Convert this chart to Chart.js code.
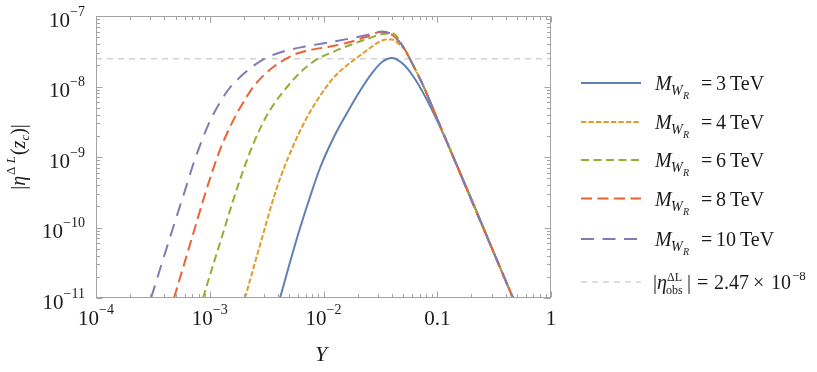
<!DOCTYPE html>
<html>
<head>
<meta charset="utf-8">
<script src="https://cdn.jsdelivr.net/npm/chart.js@4.4.1/dist/chart.umd.min.js"></script>
<style>
  html, body { margin: 0; padding: 0; background: #fff; }
  canvas { display: block; }
</style>
</head>
<body>
<canvas id="plot" width="817" height="372"></canvas>
<script>
// W_R masses (TeV), one curve each
const masses = [3, 4, 6, 8, 10];

// |eta^{Delta L}(z_c)| against Y
const x3 = [0.00415, 0.00508, 0.00622, 0.00761, 0.00932, 0.0121, 0.0161, 0.0209, 0.0267, 0.0327, 0.04, 0.049, 0.0612, 0.0813, 0.112, 0.463];
const y3 = [1e-11, 3.24e-11, 9.84e-11, 2.71e-10, 6.98e-10, 1.8e-9, 4.21e-9, 8.64e-9, 1.55e-8, 2.23e-8, 2.54e-8, 2.15e-8, 1.41e-8, 6.44e-9, 2.19e-9, 1e-11];

const x4 = [0.00204, 0.00245, 0.00294, 0.00353, 0.00423, 0.00508, 0.00622, 0.00761, 0.0097, 0.0124, 0.0158, 0.0201, 0.0256, 0.0314, 0.0354, 0.04, 0.047, 0.052, 0.06, 0.0734, 0.0899, 0.108, 0.463];
const y4 = [1e-11, 2.84e-11, 7.96e-11, 2.23e-10, 5.38e-10, 1.14e-9, 2.34e-9, 4.35e-9, 8.09e-9, 1.36e-8, 1.95e-8, 2.62e-8, 3.52e-8, 4.35e-8, 4.64e-8, 4.64e-8, 3.88e-8, 3.29e-8, 2.15e-8, 1.12e-8, 5.29e-9, 2.58e-9, 1e-11];

const x6 = [0.000873, 0.00107, 0.00131, 0.0016, 0.00192, 0.00226, 0.00266, 0.00312, 0.00367, 0.00441, 0.0054, 0.00674, 0.00859, 0.0121, 0.0171, 0.0241, 0.0334, 0.0408, 0.05, 0.06, 0.0734, 0.0899, 0.108, 0.463];
const y6 = [1e-11, 2.94e-11, 8.36e-11, 2.38e-10, 5.74e-10, 1.18e-9, 2.19e-9, 3.69e-9, 5.65e-9, 8.36e-9, 1.24e-8, 1.77e-8, 2.38e-8, 3.09e-8, 3.88e-8, 4.72e-8, 5.56e-8, 5.65e-8, 3.69e-8, 2.15e-8, 1.12e-8, 5.29e-9, 2.58e-9, 1e-11];

const x8 = [0.000485, 0.000594, 0.000727, 0.00089, 0.00105, 0.00123, 0.00145, 0.00174, 0.00208, 0.00245, 0.003, 0.00367, 0.00459, 0.00585, 0.00761, 0.0121, 0.0171, 0.0241, 0.032, 0.0384, 0.05, 0.06, 0.0734, 0.0899, 0.108, 0.463];
const y8 = [1e-11, 2.99e-11, 8.92e-11, 2.66e-10, 6.13e-10, 1.26e-9, 2.34e-9, 4.21e-9, 6.87e-9, 1.02e-8, 1.46e-8, 1.92e-8, 2.42e-8, 2.94e-8, 3.29e-8, 3.75e-8, 4.28e-8, 5.09e-8, 5.93e-8, 5.65e-8, 3.69e-8, 2.15e-8, 1.12e-8, 5.29e-9, 2.58e-9, 1e-11];

const x10 = [0.000305, 0.00038, 0.000475, 0.000594, 0.000727, 0.000855, 0.001005, 0.00118, 0.00145, 0.00185, 0.00235, 0.00312, 0.00459, 0.00688, 0.0121, 0.0209, 0.0284, 0.0327, 0.0384, 0.05, 0.06, 0.0734, 0.0899, 0.108, 0.463];
const y10 = [1e-11, 3.14e-11, 9.84e-11, 3.04e-10, 8.5e-10, 1.74e-9, 3.24e-9, 5.29e-9, 8.92e-9, 1.36e-8, 1.89e-8, 2.54e-8, 3.19e-8, 3.69e-8, 4.32e-8, 5.12e-8, 5.74e-8, 6.03e-8, 5.65e-8, 3.69e-8, 2.15e-8, 1.12e-8, 5.29e-9, 2.58e-9, 1e-11];

// observed value
const obsX = [1e-4, 1];
const obsY = [2.47e-8, 2.47e-8];

// tick labels: [base, superscript]
const xTickVals = [1e-4, 1e-3, 1e-2, 0.1, 1];
const xTickText = [['10', '\u22124'], ['10', '\u22123'], ['10', '\u22122'], ['0.1', ''], ['1', '']];
const yTickVals = [1e-7, 1e-8, 1e-9, 1e-10, 1e-11];
const yTickText = [['10', '\u22127'], ['10', '\u22128'], ['10', '\u22129'], ['10', '\u221210'], ['10', '\u221211']];

const serif = '"Liberation Serif", "Times New Roman", serif';
const colors = ['#5e81b5', '#e19c24', '#8fb032', '#eb6235', '#8778b3'];
const dashes = [[], [5.3, 2.2], [8, 4.5], [11, 5.5], [13, 8.5]];
const xs = [x3, x4, x6, x8, x10];
const ys = [y3, y4, y6, y8, y10];

function pts(xa, ya) {
  return xa.map((v, i) => ({ x: v, y: ya[i] }));
}

const datasets = masses.map((m, i) => ({
  label: 'M_WR = ' + m + ' TeV',
  data: pts(xs[i], ys[i]),
  borderColor: colors[i],
  borderWidth: 2,
  borderDash: dashes[i],
  pointRadius: 0,
  showLine: true,
  fill: false,
  cubicInterpolationMode: 'monotone',
  order: 5 - i
}));
datasets.push({
  label: 'obs',
  data: pts(obsX, obsY),
  borderColor: '#bdbdbd',
  borderWidth: 1,
  borderDash: [6, 5],
  pointRadius: 0,
  showLine: true,
  order: 10
});

function runs(ctx, list, x, y, dry) {
  let cx = x;
  for (const r of list) {
    ctx.font = (r.style || 'normal') + ' ' + r.size + 'px ' + serif;
    cx += r.dx || 0;
    if (!dry) ctx.fillText(r.t, cx, y + (r.dy || 0));
    cx += ctx.measureText(r.t).width;
  }
  return cx - x;
}

const decor = {
  id: 'decor',
  afterDraw(chart) {
    const ctx = chart.ctx;
    const a = chart.chartArea;
    const sx = chart.scales.x, sy = chart.scales.y;
    const L = Math.round(a.left) + 0.5, R = Math.round(a.right) - 0.5;
    const T = Math.round(a.top) + 0.5, B = Math.round(a.bottom) - 0.5;
    ctx.save();

    // frame + inward ticks
    ctx.strokeStyle = '#a3a3a3';
    ctx.lineWidth = 1;
    ctx.setLineDash([]);
    ctx.strokeRect(L, T, R - L, B - T);
    ctx.beginPath();
    for (let d = -4; d <= 0; d++) {
      for (let k = 1; k <= 9; k++) {
        const v = k * Math.pow(10, d);
        if (v > 1.0001) break;
        const p = Math.round(sx.getPixelForValue(v)) + 0.5;
        const len = k === 1 ? 6 : 3.5;
        ctx.moveTo(p, B); ctx.lineTo(p, B - len);
        ctx.moveTo(p, T); ctx.lineTo(p, T + len);
      }
    }
    for (let d = -11; d <= -7; d++) {
      for (let k = 1; k <= 9; k++) {
        const v = k * Math.pow(10, d);
        if (v > 1.0001e-7) break;
        const p = Math.round(sy.getPixelForValue(v)) + 0.5;
        const len = k === 1 ? 6 : 3.5;
        ctx.moveTo(L, p); ctx.lineTo(L + len, p);
        ctx.moveTo(R, p); ctx.lineTo(R - len, p);
      }
    }
    ctx.stroke();

    // tick labels
    ctx.fillStyle = '#1a1a1a';
    ctx.textBaseline = 'alphabetic';
    xTickVals.forEach((v, i) => {
      const list = [{ t: xTickText[i][0], size: 21 }];
      if (xTickText[i][1]) list.push({ t: xTickText[i][1], size: 14, dy: -11 });
      const w = runs(ctx, list, 0, 0, true);
      runs(ctx, list, sx.getPixelForValue(v) - w / 2, 325);
    });
    yTickVals.forEach((v, i) => {
      const list = [{ t: yTickText[i][0], size: 21 }, { t: yTickText[i][1], size: 14, dy: -11 }];
      const w = runs(ctx, list, 0, 0, true);
      runs(ctx, list, 85 - w, sy.getPixelForValue(v) + 10.5);
    });

    // axis titles
    runs(ctx, [{ t: 'Y', size: 22, style: 'italic' }], 315, 361);
    const ylab = [
      { t: '|', size: 20 },
      { t: '\u03b7', size: 20, style: 'italic' },
      { t: '\u0394', size: 13, dy: -10, dx: 1 },
      { t: ' L', size: 13, style: 'italic', dy: -10 },
      { t: '(', size: 20, dx: 1 },
      { t: 'z', size: 20, style: 'italic' },
      { t: 'c', size: 13, style: 'italic', dy: 4 },
      { t: ')|', size: 20 }
    ];
    const yw = runs(ctx, ylab, 0, 0, true);
    ctx.save();
    ctx.translate(25, 157);
    ctx.rotate(-Math.PI / 2);
    runs(ctx, ylab, -yw / 2, 0);
    ctx.restore();

    // legend
    const rowY = [83, 122, 160, 198.5, 239, 282];
    chart.data.datasets.forEach((ds, i) => {
      const yy = rowY[i];
      ctx.strokeStyle = ds.borderColor;
      ctx.lineWidth = ds.borderWidth;
      ctx.setLineDash(ds.borderDash || []);
      ctx.beginPath();
      ctx.moveTo(581, yy);
      ctx.lineTo(641, yy);
      ctx.stroke();
      ctx.setLineDash([]);
      ctx.fillStyle = '#1a1a1a';
      const base = yy + 7;
      if (i < masses.length) {
        runs(ctx, [{ t: 'M', size: 20, style: 'italic' }], 655, base);
        runs(ctx, [{ t: 'W', size: 14, style: 'italic' }], 671, base + 5);
        runs(ctx, [{ t: 'R', size: 10, style: 'italic' }], 683, base + 9);
        runs(ctx, [{ t: '=', size: 20 }], 701, base);
        const w = runs(ctx, [{ t: String(masses[i]), size: 20 }], 716, base);
        runs(ctx, [{ t: 'TeV', size: 20 }], 716 + w + 4, base);
      } else {
        runs(ctx, [{ t: '|', size: 20 }], 653, base);
        runs(ctx, [{ t: '\u03b7', size: 20, style: 'italic' }], 657, base);
        runs(ctx, [{ t: '\u0394L', size: 12 }], 667, base - 8);
        runs(ctx, [{ t: 'obs', size: 12 }], 666, base + 5);
        runs(ctx, [{ t: '|', size: 20 }], 687, base);
        runs(ctx, [{ t: '=', size: 20 }], 697, base);
        runs(ctx, [{ t: '2.47', size: 20 }], 714, base);
        runs(ctx, [{ t: '\u00d7', size: 20 }], 753, base);
        runs(ctx, [{ t: '10', size: 20 }], 771, base);
        runs(ctx, [{ t: '\u22128', size: 13 }], 792, base - 9);
      }
    });
    ctx.restore();
  }
};

new Chart(document.getElementById('plot'), {
  type: 'scatter',
  data: { datasets: datasets },
  options: {
    responsive: false,
    animation: false,
    devicePixelRatio: 1,
    layout: { padding: { left: 96, right: 266, top: 16, bottom: 74 } },
    plugins: { legend: { display: false }, tooltip: { enabled: false } },
    scales: {
      x: {
        type: 'logarithmic', min: 1e-4, max: 1,
        grid: { display: false, drawTicks: false },
        border: { display: false },
        ticks: { display: false },
        afterFit(s) { s.height = 0; }
      },
      y: {
        type: 'logarithmic', min: 1e-11, max: 1e-7,
        grid: { display: false, drawTicks: false },
        border: { display: false },
        ticks: { display: false },
        afterFit(s) { s.width = 0; }
      }
    }
  },
  plugins: [decor]
});
</script>
</body>
</html>
